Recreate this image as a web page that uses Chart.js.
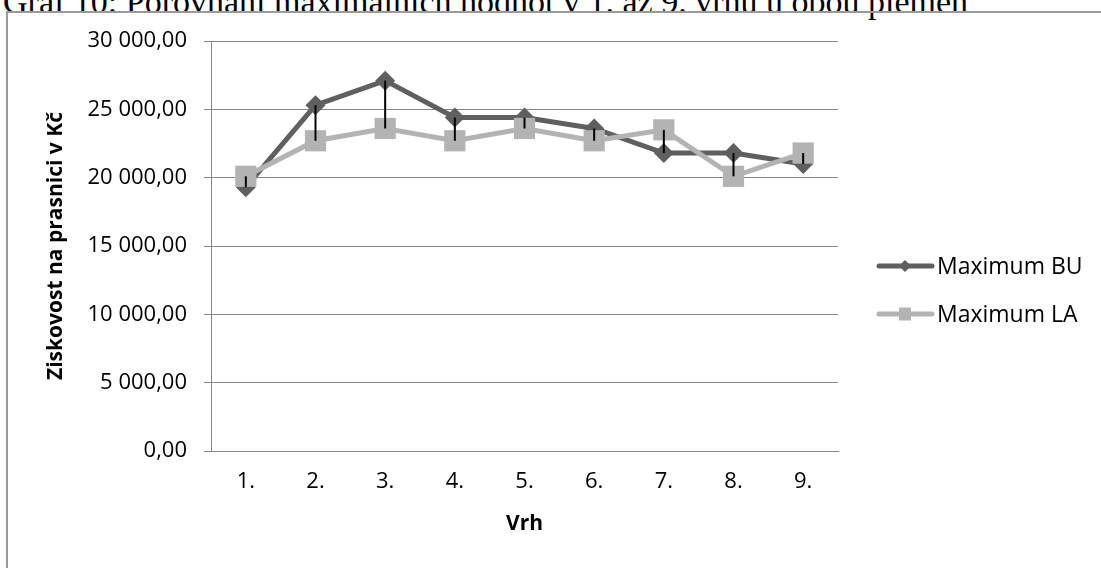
<!DOCTYPE html>
<html>
<head>
<meta charset="utf-8">
<script src="https://cdn.jsdelivr.net/npm/chart.js@4.4.1/dist/chart.umd.min.js"></script>
<style>
  body { margin: 0; background: #fff; width: 1101px; height: 568px; overflow: hidden; position: relative; }
  #caption { position: absolute; left: 3px; top: -14px; font-family: "Liberation Serif", serif; font-size: 34px; line-height: 32px; white-space: nowrap; color: #000; }
  #frame { position: absolute; left: 6px; top: 11px; width: 1200px; height: 700px; border: 2px solid #9a9a9a; box-sizing: border-box; }
  #chart { position: absolute; left: 0; top: 0; }
</style>
</head>
<body>
<div id="caption">Graf 10: Porovnání maximálních hodnot v 1. až 9. vrhu u obou plemen</div>
<div id="frame"></div>
<canvas id="chart" width="1101" height="568"></canvas>
<script>
// litters (x axis)
const litters = ['1.', '2.', '3.', '4.', '5.', '6.', '7.', '8.', '9.'];
// profit per sow in CZK
const maxBU = [19300, 25300, 27100, 24400, 24400, 23600, 21800, 21800, 21000];
const maxLA = [20100, 22700, 23600, 22700, 23600, 22700, 23500, 20100, 21800];
const seriesNames = ['Maximum BU', 'Maximum LA'];
const yTicks = [0, 5000, 10000, 15000, 20000, 25000, 30000];

const FONT = "'Open Sans', sans-serif";
const GRID = '#878787';

// 30000 -> "30 000,00"
function czNumber(v) {
    const parts = Number(v).toFixed(2).split('.');
    return parts[0].replace(/\B(?=(\d{3})+(?!\d))/g, ' ') + ',' + parts[1];
}

// black high-low lines between the two series at each litter
const highLowLines = {
    id: 'highLowLines',
    afterDatasetsDraw(chart) {
        const ctx = chart.ctx;
        const x = chart.scales.x, y = chart.scales.y;
        ctx.save();
        ctx.strokeStyle = '#000';
        ctx.lineWidth = 2;
        litters.forEach((lab, i) => {
            const px = x.getPixelForValue(i);
            ctx.beginPath();
            ctx.moveTo(px, y.getPixelForValue(maxBU[i]));
            ctx.lineTo(px, y.getPixelForValue(maxLA[i]));
            ctx.stroke();
        });
        ctx.restore();
    }
};

// legend on the right: line sample with marker, then the name
const sideLegend = {
    id: 'sideLegend',
    afterDraw(chart) {
        const ctx = chart.ctx;
        const rows = [266, 314];
        ctx.save();
        chart.data.datasets.forEach((ds, i) => {
            const cy = rows[i];
            ctx.strokeStyle = ds.borderColor;
            ctx.lineWidth = 5;
            ctx.lineCap = 'round';
            ctx.beginPath();
            ctx.moveTo(879, cy);
            ctx.lineTo(932, cy);
            ctx.stroke();
            ctx.fillStyle = ds.borderColor;
            ctx.beginPath();
            if (ds.pointStyle === 'rectRot') {
                ctx.moveTo(905, cy - 6);
                ctx.lineTo(911, cy);
                ctx.lineTo(905, cy + 6);
                ctx.lineTo(899, cy);
                ctx.closePath();
            } else {
                ctx.rect(899, cy - 6.5, 12, 13);
            }
            ctx.fill();
            ctx.fillStyle = '#000';
            ctx.font = '23px ' + FONT;
            ctx.textBaseline = 'middle';
            ctx.textAlign = 'left';
            ctx.fillText(ds.label, 937, cy + 1);
        });
        ctx.restore();
    }
};

const ctx = document.getElementById('chart').getContext('2d');
const chart = new Chart(ctx, {
    type: 'line',
    data: {
        labels: litters,
        datasets: [{
            label: seriesNames[0],
            data: maxBU,
            borderColor: '#5f5f5f',
            backgroundColor: '#5f5f5f',
            borderWidth: 5,
            pointStyle: 'rectRot',
            pointRadius: 10,
            pointBorderWidth: 0,
            pointBackgroundColor: '#5f5f5f',
            tension: 0,
            order: 2
        }, {
            label: seriesNames[1],
            data: maxLA,
            borderColor: '#b3b3b3',
            backgroundColor: '#b3b3b3',
            borderWidth: 5,
            pointStyle: 'rect',
            pointRadius: 15,
            pointBorderWidth: 0,
            pointBackgroundColor: '#b3b3b3',
            tension: 0,
            order: 1
        }]
    },
    options: {
        responsive: false,
        animation: false,
        devicePixelRatio: 1,
        layout: { padding: { left: 0, top: 41, right: 263, bottom: 0 } },
        plugins: {
            legend: { display: false },
            tooltip: { enabled: false }
        },
        scales: {
            x: {
                offset: true,
                grid: { display: false, drawTicks: false },
                border: { color: GRID, width: 1 },
                ticks: { color: '#000', font: { family: FONT, size: 22 }, padding: 18 },
                title: { display: true, text: 'Vrh', color: '#000', font: { family: FONT, size: 21, weight: 'bold' }, padding: { top: 0, bottom: 31 } },
                afterFit(scale) { scale.height = 117; }
            },
            y: {
                min: yTicks[0],
                max: yTicks[yTicks.length - 1],
                afterBuildTicks(scale) { scale.ticks = yTicks.map(v => ({ value: v })); },
                ticks: { color: '#000', font: { family: FONT, size: 22 }, padding: 17, callback: v => czNumber(v) },
                grid: { color: GRID, lineWidth: 1, tickLength: 7 },
                border: { color: GRID, width: 1 },
                title: { display: true, text: 'Ziskovost na prasnici v Kč', color: '#000', font: { family: FONT, size: 21, weight: 'bold' }, padding: { top: 43, bottom: 0 } },
                afterFit(scale) { scale.width = 211; }
            }
        }
    },
    plugins: [highLowLines, sideLegend]
});
</script>
</body>
</html>
